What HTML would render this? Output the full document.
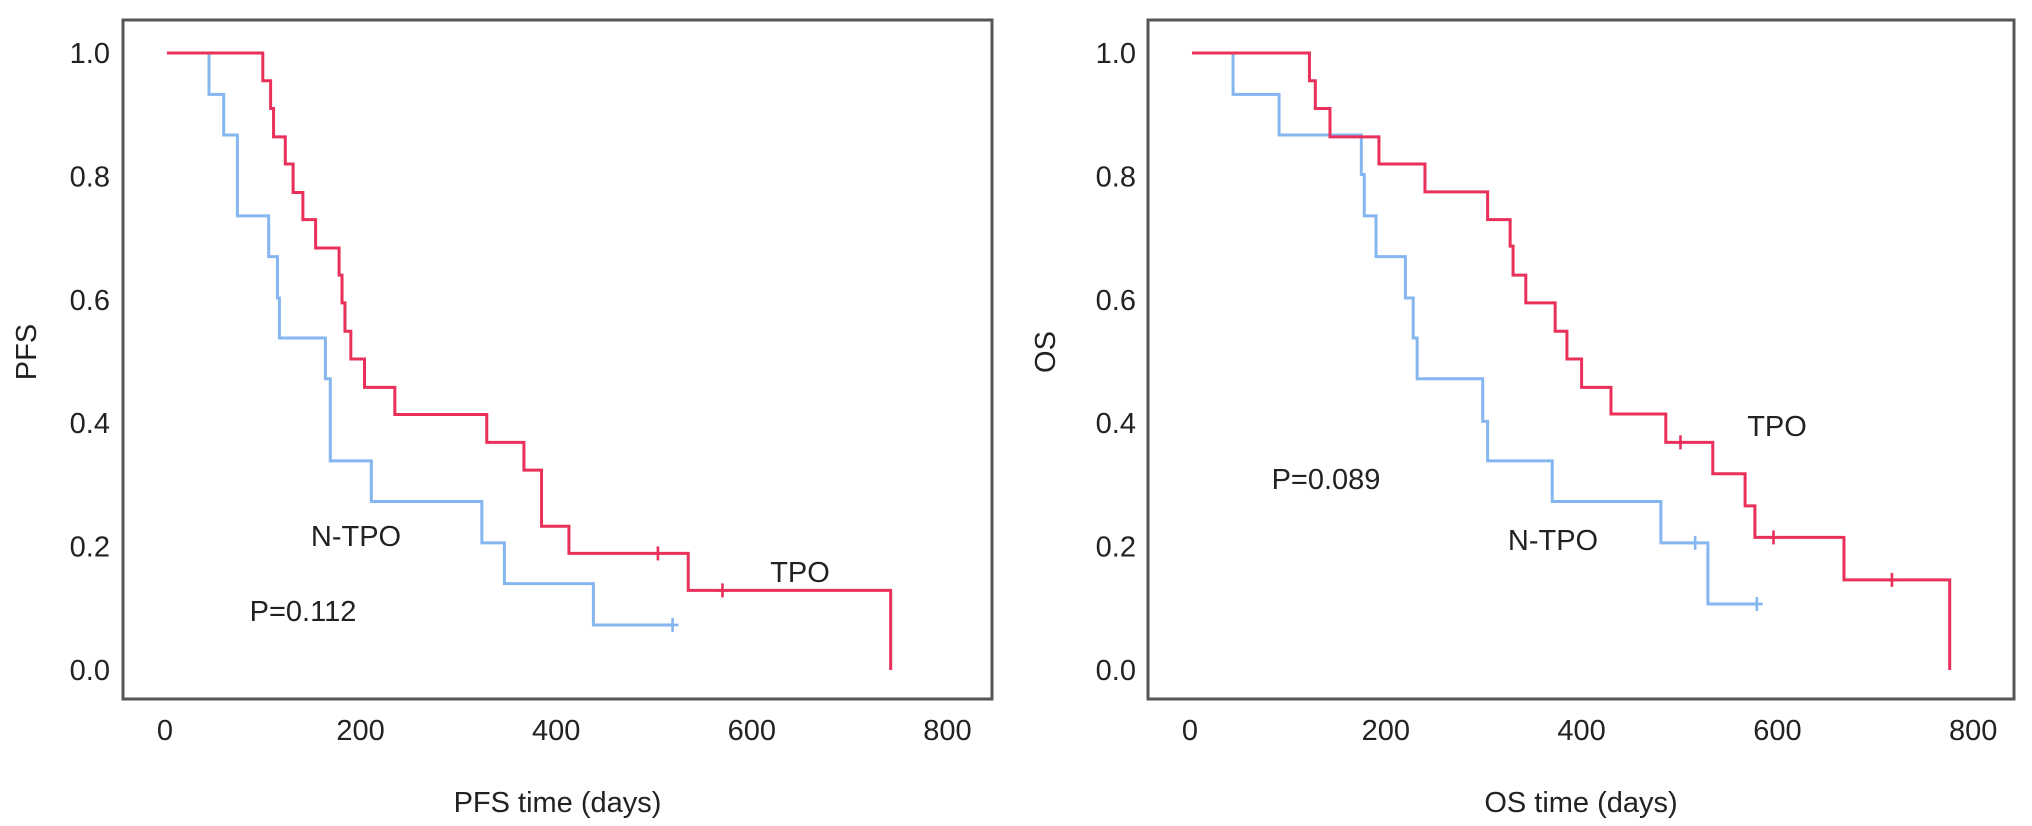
<!DOCTYPE html>
<html><head><meta charset="utf-8"><style>
html,body{margin:0;padding:0;background:#fff;}
svg{display:block;font-family:"Liberation Sans",Arial,sans-serif;}
</style></head><body>
<svg id="chart" width="2032" height="826" viewBox="0 0 2032 826" xmlns="http://www.w3.org/2000/svg"></svg>
<script>
// PFS panel data
const pfsTpoTimes = [100,108,111,123,131,141,154,178,181,184,190,204,235,329,367,385,413,535,742];
const pfsTpoSurv  = [0.955,0.91,0.864,0.82,0.774,0.73,0.684,0.64,0.595,0.549,0.504,0.458,0.414,0.369,0.324,0.233,0.189,0.129,0.0];
const pfsTpoCensor = [504,570];
const pfsTpoEnd = 742;
const pfsNtpoTimes = [45,60,74,106,115,117,164,169,211,324,347,438];
const pfsNtpoSurv  = [0.933,0.867,0.736,0.67,0.603,0.538,0.472,0.339,0.273,0.206,0.14,0.073];
const pfsNtpoCensor = [519];
const pfsNtpoEnd = 519;
// OS panel data
const osTpoTimes = [122,128,143,193,240,304,327,330,343,373,385,400,430,486,534,567,577,668,776];
const osTpoSurv  = [0.955,0.91,0.864,0.82,0.775,0.73,0.687,0.64,0.595,0.549,0.504,0.458,0.415,0.369,0.318,0.266,0.215,0.146,0.0];
const osTpoCensor = [501,596,717];
const osTpoEnd = 776;
const osNtpoTimes = [44,91,175,178,190,220,228,232,299,304,370,481,529];
const osNtpoSurv  = [0.933,0.867,0.803,0.736,0.67,0.603,0.538,0.472,0.403,0.339,0.273,0.206,0.107];
const osNtpoCensor = [516,579];
const osNtpoEnd = 579;
const xTicks = [0,200,400,600,800];
const yTicks = [0.0,0.2,0.4,0.6,0.8,1.0];

const NS = "http://www.w3.org/2000/svg";
const svg = document.getElementById('chart');
const RED = "#e8305a", BLUE = "#86b6f0";
function mk(tag, attrs, parent){const e=document.createElementNS(NS,tag);for(const k in attrs)e.setAttribute(k,attrs[k]);(parent||svg).appendChild(e);return e;}

function panel(cfg){
  const g = mk('g',{});
  
  
  const x = d => cfg.x0 + d*cfg.kx;
  const y = s => 670 - s*617;
  const box = mk('rect',{x:cfg.bl,y:20,width:cfg.br-cfg.bl,height:679,fill:'none',stroke:'#555',"stroke-width":3},g);
  
  
  yTicks.forEach(v=>{
    const t = mk('text',{x:cfg.ylabX,y:y(v)+10,'text-anchor':'end','font-size':29,fill:'#222'},g);
    t.textContent = v.toFixed(1);
    
    
  });
  xTicks.forEach(v=>{
    const t = mk('text',{x:x(v),y:740,'text-anchor':'middle','font-size':29,fill:'#222'},g);
    t.textContent = v;
    
    
  });
  const xt = mk('text',{x:(cfg.bl+cfg.br)/2,y:812,'text-anchor':'middle','font-size':29,fill:'#222'},g);
  xt.textContent = cfg.xTitle;
  
  
  const yt = mk('text',{x:0,y:0,'text-anchor':'middle','font-size':29,fill:'#222',transform:`translate(${cfg.yTitleX},352) rotate(-90)`},g);
  yt.textContent = cfg.yTitle;
  
  
  cfg.series.forEach(s=>{
    let d = `M${x(2)},${y(1)}`;
    s.times.forEach((t,i)=>{ d += ` H${x(t)} V${y(s.surv[i])}`; });
    if (s.end > s.times[s.times.length-1]) d += ` H${x(s.end)}`;
    const p = mk('path',{d:d,fill:'none',stroke:s.color,'stroke-width':3},g);
    
    
    s.censor.forEach(c=>{
      let sv = 1; s.times.forEach((t,i)=>{ if(t<=c) sv = s.surv[i]; });
      const m = mk('path',{d:`M${x(c)-6},${y(sv)} H${x(c)+6} M${x(c)},${y(sv)-7} V${y(sv)+7}`,stroke:s.color,'stroke-width':2.6},g);
      
      
    });
  });
  cfg.labels.forEach(l=>{
    const t = mk('text',{x:l[1],y:l[2],'text-anchor':'middle','font-size':29,fill:'#222'},g);
    t.textContent = l[0];
    
    
  });
}

panel({name:'pfs-panel',x0:165,kx:0.978,bl:123,br:992,ylabX:110,yTitleX:36,xTitle:'PFS time (days)',yTitle:'PFS',
  series:[
    {name:'ntpo-curve',color:BLUE,times:pfsNtpoTimes,surv:pfsNtpoSurv,censor:pfsNtpoCensor,end:pfsNtpoEnd},
    {name:'tpo-curve',color:RED,times:pfsTpoTimes,surv:pfsTpoSurv,censor:pfsTpoCensor,end:pfsTpoEnd}],
  labels:[['N-TPO',356,546,'ntpo-label'],['TPO',800,582,'tpo-label'],['P=0.112',303,621,'p-value']]});
panel({name:'os-panel',x0:1190,kx:0.979,bl:1148,br:2014,ylabX:1136,yTitleX:1055,xTitle:'OS time (days)',yTitle:'OS',
  series:[
    {name:'ntpo-curve',color:BLUE,times:osNtpoTimes,surv:osNtpoSurv,censor:osNtpoCensor,end:osNtpoEnd},
    {name:'tpo-curve',color:RED,times:osTpoTimes,surv:osTpoSurv,censor:osTpoCensor,end:osTpoEnd}],
  labels:[['TPO',1777,436,'tpo-label'],['N-TPO',1553,550,'ntpo-label'],['P=0.089',1326,489,'p-value']]});
</script>
</body></html>
